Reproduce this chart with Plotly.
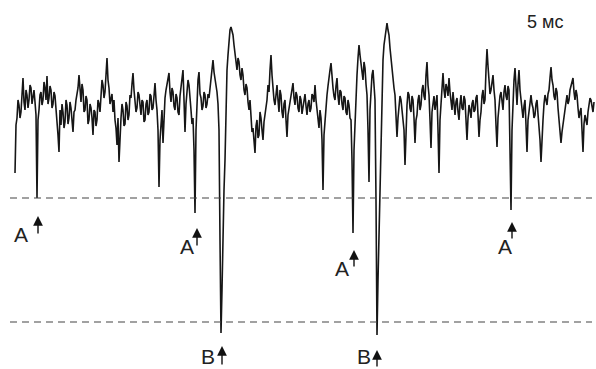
import plotly.graph_objects as go

# Sampling times (pixel-scaled time axis, 1 unit per sample)
time = list(range(15, 595))

# Recorded potential (axis reversed: larger value = lower on the page)
signal = [
    173, 125, 118, 100, 105, 118, 112, 96, 78, 102, 110, 90, 95, 108, 100, 85, 88, 104, 97, 90,
    102, 115, 198, 120, 110, 95, 92, 105, 100, 82, 88, 100, 76, 104, 98, 86, 90, 108, 104, 92,
    96, 108, 118, 135, 152, 110, 125, 104, 112, 128, 122, 100, 105, 124, 118, 102, 108, 120, 132, 112,
    110, 100, 95, 88, 75, 96, 102, 84, 90, 112, 110, 96, 100, 124, 120, 104, 108, 118, 135, 110,
    112, 126, 120, 100, 104, 112, 98, 80, 85, 98, 92, 70, 58, 80, 88, 104, 100, 94, 112, 100,
    120, 128, 145, 118, 162, 130, 118, 104, 110, 126, 124, 102, 106, 120, 115, 95, 98, 84, 73, 90,
    98, 112, 108, 92, 95, 110, 115, 100, 102, 122, 120, 104, 100, 115, 112, 94, 96, 110, 108, 96,
    83, 100, 110, 130, 187, 140, 118, 110, 143, 112, 98, 90, 85, 78, 73, 92, 102, 88, 92, 106,
    110, 94, 98, 112, 115, 96, 88, 78, 70, 100, 132, 104, 95, 80, 85, 104, 110, 124, 118, 150,
    213, 130, 90, 80, 72, 94, 98, 110, 106, 92, 95, 108, 104, 94, 98, 88, 82, 70, 60, 72,
    78, 88, 92, 104, 130, 240, 333, 290, 220, 190, 160, 110, 70, 55, 40, 30, 27, 32, 35, 45,
    55, 64, 70, 58, 62, 75, 80, 68, 75, 90, 95, 84, 88, 102, 110, 100, 118, 132, 128, 140,
    153, 126, 120, 138, 135, 112, 118, 130, 140, 122, 115, 104, 100, 85, 92, 70, 55, 75, 90, 100,
    105, 92, 85, 100, 112, 90, 95, 112, 118, 104, 100, 120, 137, 115, 108, 100, 95, 90, 83, 98,
    105, 92, 96, 108, 112, 96, 100, 114, 108, 98, 94, 106, 115, 104, 100, 112, 108, 94, 96, 102,
    85, 100, 110, 120, 128, 110, 118, 140, 190, 135, 120, 104, 95, 86, 80, 70, 63, 78, 88, 96,
    100, 86, 78, 96, 105, 90, 92, 104, 110, 96, 98, 112, 115, 100, 105, 118, 120, 160, 233, 150,
    120, 95, 75, 58, 45, 55, 62, 74, 80, 62, 68, 84, 95, 130, 182, 110, 85, 75, 70, 88,
    100, 200, 335, 280, 230, 180, 130, 90, 60, 45, 38, 28, 23, 30, 35, 48, 60, 68, 77, 88,
    95, 115, 137, 118, 110, 96, 100, 112, 120, 130, 165, 120, 105, 92, 95, 108, 112, 96, 100, 118,
    143, 120, 115, 100, 95, 110, 105, 90, 85, 96, 100, 75, 62, 85, 95, 120, 148, 112, 100, 96,
    110, 100, 95, 130, 173, 120, 100, 82, 73, 90, 98, 84, 88, 96, 78, 92, 100, 110, 92, 104,
    115, 102, 98, 112, 120, 104, 95, 108, 110, 96, 100, 120, 140, 118, 105, 110, 118, 104, 100, 112,
    110, 98, 95, 115, 137, 120, 112, 96, 90, 104, 100, 70, 49, 66, 80, 94, 90, 80, 75, 90,
    100, 125, 147, 118, 105, 96, 92, 104, 110, 92, 85, 96, 100, 86, 90, 150, 210, 130, 95, 80,
    68, 88, 105, 84, 70, 90, 100, 112, 118, 106, 100, 125, 152, 120, 110, 98, 95, 104, 108, 118,
    115, 104, 100, 114, 125, 140, 162, 130, 120, 104, 95, 100, 105, 94, 90, 78, 67, 80, 85, 96,
    100, 88, 92, 108, 118, 130, 143, 132, 125, 114, 110, 100, 95, 104, 100, 90, 85, 82, 78, 92,
    100, 90, 95, 108, 118, 112, 108, 130, 152, 124, 115, 120, 125, 112, 105, 98, 100, 108, 112, 102,
]

# Threshold levels (dashed lines)
threshold_levels = [198, 322]
threshold_start, threshold_end = 10, 592

# Spike labels: letter, letter position, arrow time, arrow tip, arrow length
label_text = ["A", "A", "B", "A", "B", "A"]
label_x = [21, 187, 208, 342, 364, 505]
label_y = [234, 246, 356, 268, 356, 246]
arrow_x = [38, 197, 222, 354, 377, 512]
arrow_tip = [216, 228, 346, 250, 350, 222]
arrow_len = [19, 19, 20, 18, 18, 18]

scale_text = "5 мс"

fig = go.Figure()
fig.add_trace(go.Scatter(
    x=time, y=signal, mode="lines",
    line=dict(color="#161616", width=1.6),
    hoverinfo="skip", showlegend=False,
))

for lvl in threshold_levels:
    fig.add_shape(type="line", xref="x", yref="y",
                  x0=threshold_start, x1=threshold_end, y0=lvl, y1=lvl,
                  line=dict(color="#444444", width=1.1, dash="7px,5px"))

font = dict(family="Liberation Sans, Arial, sans-serif", color="#222222")
for t, lx, ly in zip(label_text, label_x, label_y):
    fig.add_annotation(x=lx, y=ly, text=t, showarrow=False,
                       font=dict(size=21, **font))
for ax_, tip, ln in zip(arrow_x, arrow_tip, arrow_len):
    fig.add_annotation(x=ax_, y=tip, text="", showarrow=True,
                       ax=0, ay=ln, arrowhead=2, arrowsize=1.4,
                       arrowwidth=1.4, arrowcolor="#111111", standoff=0)

fig.add_annotation(x=545, y=22, text=scale_text, showarrow=False,
                   font=dict(size=18, **font))

fig.update_layout(
    width=596, height=369,
    margin=dict(l=0, r=0, t=0, b=0),
    paper_bgcolor="white", plot_bgcolor="white",
    xaxis=dict(range=[0, 596], visible=False, fixedrange=True),
    yaxis=dict(range=[369, 0], visible=False, fixedrange=True),
)

fig.write_html("out.html", config={"displayModeBar": False},
               post_script="document.body.style.margin='0';document.body.style.overflow='hidden';")
